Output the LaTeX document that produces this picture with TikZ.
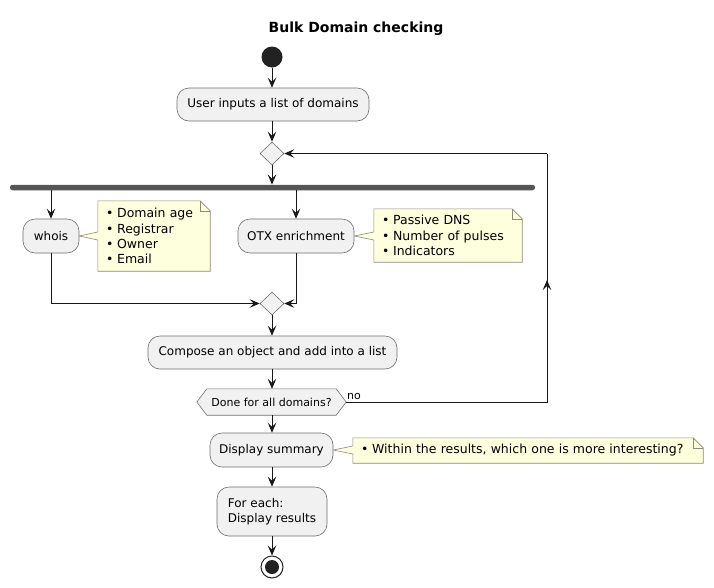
\documentclass[tikz,border=0pt]{standalone}
\usepackage{fontspec}
\setmainfont{DejaVu Sans}
\usetikzlibrary{shapes.geometric,arrows.meta,backgrounds,calc}
\definecolor{actfill}{HTML}{F1F1F1}
\definecolor{lineC}{HTML}{181818}
\definecolor{notefill}{HTML}{FEFFDD}
\definecolor{notedraw}{HTML}{8A8A78}
\definecolor{actdraw}{HTML}{6E6E6E}
\definecolor{barC}{HTML}{555555}
\definecolor{startC}{HTML}{222222}
\tikzset{
  txt/.style={font=\fontsize{12}{15}\selectfont},
  notetxt/.style={font=\fontsize{12.5}{15.3}\selectfont},
  act/.style={txt, draw=actdraw, line width=0.6pt, fill=actfill, rounded corners=12pt, inner sep=0pt},
  diam/.style={diamond, draw=actdraw, line width=0.6pt, fill=actfill, minimum width=24pt, minimum height=23pt, inner sep=0pt},
  barbox/.style={rectangle, fill=barC, rounded corners=2.5pt, minimum height=5.5pt, inner sep=0pt},
  notebox/.style={notetxt, inner xsep=8pt, inner ysep=0pt, align=left},
  noteline/.style={draw=notedraw, fill=notefill, line width=0.6pt, line join=miter},
  conn/.style={draw=lineC, line width=1pt, -{Stealth[length=10pt,width=8.5pt,inset=4pt]}},
  plain/.style={draw=lineC, line width=1pt},
}
\newcommand\bul{\textbullet\hspace{0.3em}}
\newcommand\mynote[3]{% node, target, fold
  \path[noteline] (#1.north west) -- ($(#1.north east)+(-#3,0)$) -- ($(#1.north east)+(0,#3)$) -- (#1.south east) -- (#1.south west)
    -- ($(#1.west |- #2.east)+(0,4)$) -- (#2.east) -- ($(#1.west |- #2.east)+(0,-4)$) -- cycle;
  \draw[notedraw, line width=0.6pt] ($(#1.north east)+(-#3,0)$) -- ($(#1.north east)+(-#3,#3)$) -- ($(#1.north east)+(0,#3)$);
}
\begin{document}
\begin{tikzpicture}[x=1pt,y=-1pt]
\useasboundingbox (0,0) rectangle (714,587);
\node[font=\bfseries\fontsize{14}{16}\selectfont] (title) at (356,29) {Bulk Domain checking};
\node[circle, fill=startC, minimum size=21pt, inner sep=0pt] (start) at (272,57) {};
\node[act, minimum width=192pt, minimum height=33pt] (user) at (273,104.5) {User inputs a list of domains};
\node[diam] (d1) at (272,153.5) {};
\node[barbox, minimum width=525pt] (bar) at (272.5,187.5) {};
\node[act, minimum width=56pt, minimum height=34pt] (whois) at (51,236) {whois};
\node[notebox, text width=96pt, minimum height=70pt] (n1) at (154,236) {\bul Domain age\\\bul Registrar\\\bul Owner\\\bul Email};
\node[act, minimum width=116pt, minimum height=34pt] (otx) at (296,236) {OTX enrichment};
\node[notebox, text width=132pt, minimum height=53pt] (n2) at (448,235.5) {\bul Passive DNS\\\bul Number of pulses\\\bul Indicators};
\node[diam] (d2) at (272,303.5) {};
\node[act, minimum width=249pt, minimum height=33pt] (comp) at (272.5,352.5) {Compose an object and add into a list};
\node[font=\fontsize{11}{13}\selectfont, minimum width=129pt, minimum height=26pt, inner sep=0pt] (hex) at (271.5,402) {Done for all domains?};
\node[act, minimum width=123pt, minimum height=34pt] (sum) at (271.5,450) {Display summary};
\node[notebox, text width=334pt, minimum height=25pt] (n3) at (528,450.5) {\bul Within the results, which one is more interesting?};
\node[act, minimum width=110pt, minimum height=49pt, align=left] (fe) at (272,511.5) {For each:\\Display results};
\node[circle, draw=startC, line width=1pt, fill=white, minimum size=22pt, inner sep=0pt] (end) at (272,567) {};
\node[circle, fill=startC, minimum size=14pt, inner sep=0pt] (endin) at (end.center) {};
\node[font=\fontsize{11}{13}\selectfont, anchor=south west, inner sep=1pt] (nolab) at (346,401) {no};
\coordinate (hexL) at ($(hex.west)+(-10,0)$);
\coordinate (hexR) at ($(hex.east)+(10,0)$);
\coordinate (lb) at (547,402);
\coordinate (lt) at (547,153.5);
\coordinate (lm) at (547,280);
\begin{scope}[on background layer]
  \path[draw=actdraw, fill=actfill, line width=0.6pt] (hexL) -- (hex.north west) -- (hex.north east) -- (hexR) -- (hex.south east) -- (hex.south west) -- cycle;
  \mynote{n1}{whois}{10}
  \mynote{n2}{otx}{10}
  \mynote{n3}{sum}{10}
\end{scope}
\draw[conn] (start) -- (start |- user.north);
\draw[conn] (start |- user.south) -- (d1.north);
\draw[conn] (d1) -- (d1.south |- bar.north);
\draw[conn] (whois.north |- bar.south) -- (whois.north);
\draw[conn] (otx.north |- bar.south) -- (otx.north);
\draw[conn] (whois.south) |- (d2.west);
\draw[conn] (otx.south) |- (d2.east);
\draw[conn] (d2) -- (d2 |- comp.north);
\draw[conn] (d2 |- comp.south) -- (d2 |- hex.north);
\draw[plain] (hexR) -- (lb) -- (lt);
\draw[conn] (lt) -- (d1.east);
\draw[conn] (lb) -- (lm);
\draw[conn] (d2 |- hex.south) -- (d2 |- sum.north);
\draw[conn] (d2 |- sum.south) -- (d2 |- fe.north);
\draw[conn] (fe) -- (end);
\end{tikzpicture}
\end{document}
